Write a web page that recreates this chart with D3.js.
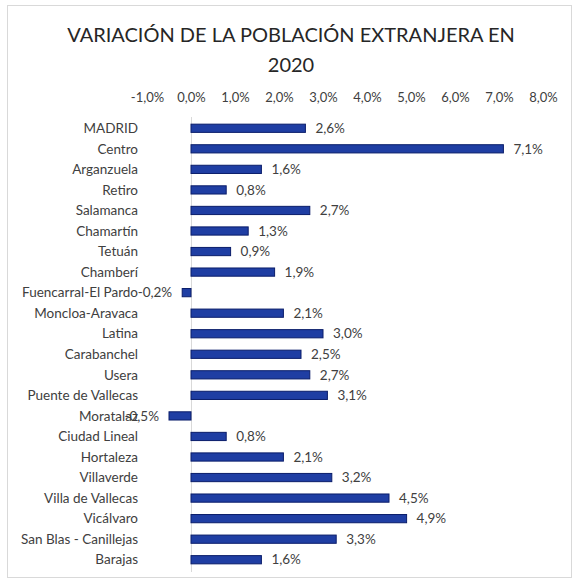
<!DOCTYPE html>
<html>
<head>
<meta charset="utf-8">
<script src="https://cdn.jsdelivr.net/npm/d3@7"></script>
<style>
  body { margin: 0; background: #fff; }
  svg { display: block; }
</style>
</head>
<body>
<svg id="svg" width="574" height="582"></svg>
<script>
// data
var districts = ["MADRID", "Centro", "Arganzuela", "Retiro", "Salamanca", "Chamartín",
  "Tetuán", "Chamberí", "Fuencarral-El Pardo", "Moncloa-Aravaca", "Latina", "Carabanchel",
  "Usera", "Puente de Vallecas", "Moratalaz", "Ciudad Lineal", "Hortaleza", "Villaverde",
  "Villa de Vallecas", "Vicálvaro", "San Blas - Canillejas", "Barajas"];
var variation = [0.026, 0.071, 0.016, 0.008, 0.027, 0.013, 0.009, 0.019, -0.002, 0.021,
  0.030, 0.025, 0.027, 0.031, -0.005, 0.008, 0.021, 0.032, 0.045, 0.049, 0.033, 0.016];
var tickValues = [-0.01, 0, 0.01, 0.02, 0.03, 0.04, 0.05, 0.06, 0.07, 0.08];
var titleLines = ["VARIACIÓN DE LA POBLACIÓN EXTRANJERA EN", "2020"];

var font = "Lato, 'Open Sans', sans-serif";
var svg = d3.select("#svg");

// spanish style percentages with a plain hyphen: -0,2%
var es = d3.formatLocale({ decimal: ",", thousands: ".", grouping: [3], currency: ["", "€"], minus: "-" });
var pct = es.format(".1%");

// chart frame
svg.append("rect")
  .attr("x", 7.5).attr("y", 5.5)
  .attr("width", 564).attr("height", 572)
  .attr("fill", "#fff")
  .attr("stroke", "#d9d9d9");

// title
svg.append("g").selectAll("text")
  .data(titleLines)
  .join("text")
  .attr("x", 291)
  .attr("y", (d, i) => 42 + i * 30)
  .attr("text-anchor", "middle")
  .attr("font-family", font)
  .attr("font-size", 20)
  .attr("fill", "#262626")
  .text(d => d);

var x = d3.scaleLinear().domain([-0.01, 0.08]).range([147, 543]);
var y = d3.scaleBand().domain(districts).range([118, 570]).paddingInner(0.6).paddingOuter(0.3);

// top axis, labels only
var xAxis = svg.append("g")
  .attr("transform", "translate(0, 105)")
  .call(d3.axisTop(x).tickValues(tickValues).tickSize(0).tickFormat(pct));
xAxis.select(".domain").remove();
xAxis.selectAll("text")
  .attr("font-family", font)
  .attr("font-size", 13)
  .attr("fill", "#404040");

// zero line
svg.append("line")
  .attr("x1", x(0) + 0.5).attr("x2", x(0) + 0.5)
  .attr("y1", 117).attr("y2", 572)
  .attr("stroke", "#d9d9d9");

// category labels
svg.append("g").selectAll("text")
  .data(districts)
  .join("text")
  .attr("x", 138)
  .attr("y", d => y(d) + y.bandwidth() / 2)
  .attr("dy", "0.35em")
  .attr("text-anchor", "end")
  .attr("font-family", font)
  .attr("font-size", 13.5)
  .attr("fill", "#404040")
  .text(d => d);

var rows = districts.map((d, i) => ({ name: d, value: variation[i] }));

// bars
svg.append("g").selectAll("rect")
  .data(rows)
  .join("rect")
  .attr("x", d => x(Math.min(0, d.value)))
  .attr("y", d => y(d.name))
  .attr("width", d => Math.abs(x(d.value) - x(0)))
  .attr("height", y.bandwidth())
  .attr("fill", "#1f3ea3")
  .attr("stroke", "#0a1d6a")
  .attr("stroke-width", 1);

// value labels
svg.append("g").selectAll("text")
  .data(rows)
  .join("text")
  .attr("x", d => d.value < 0 ? x(d.value) - 10 : x(d.value) + 10)
  .attr("y", d => y(d.name) + y.bandwidth() / 2)
  .attr("dy", "0.35em")
  .attr("text-anchor", d => d.value < 0 ? "end" : "start")
  .attr("font-family", font)
  .attr("font-size", 13.5)
  .attr("fill", "#404040")
  .text(d => pct(d.value));
</script>
</body>
</html>
